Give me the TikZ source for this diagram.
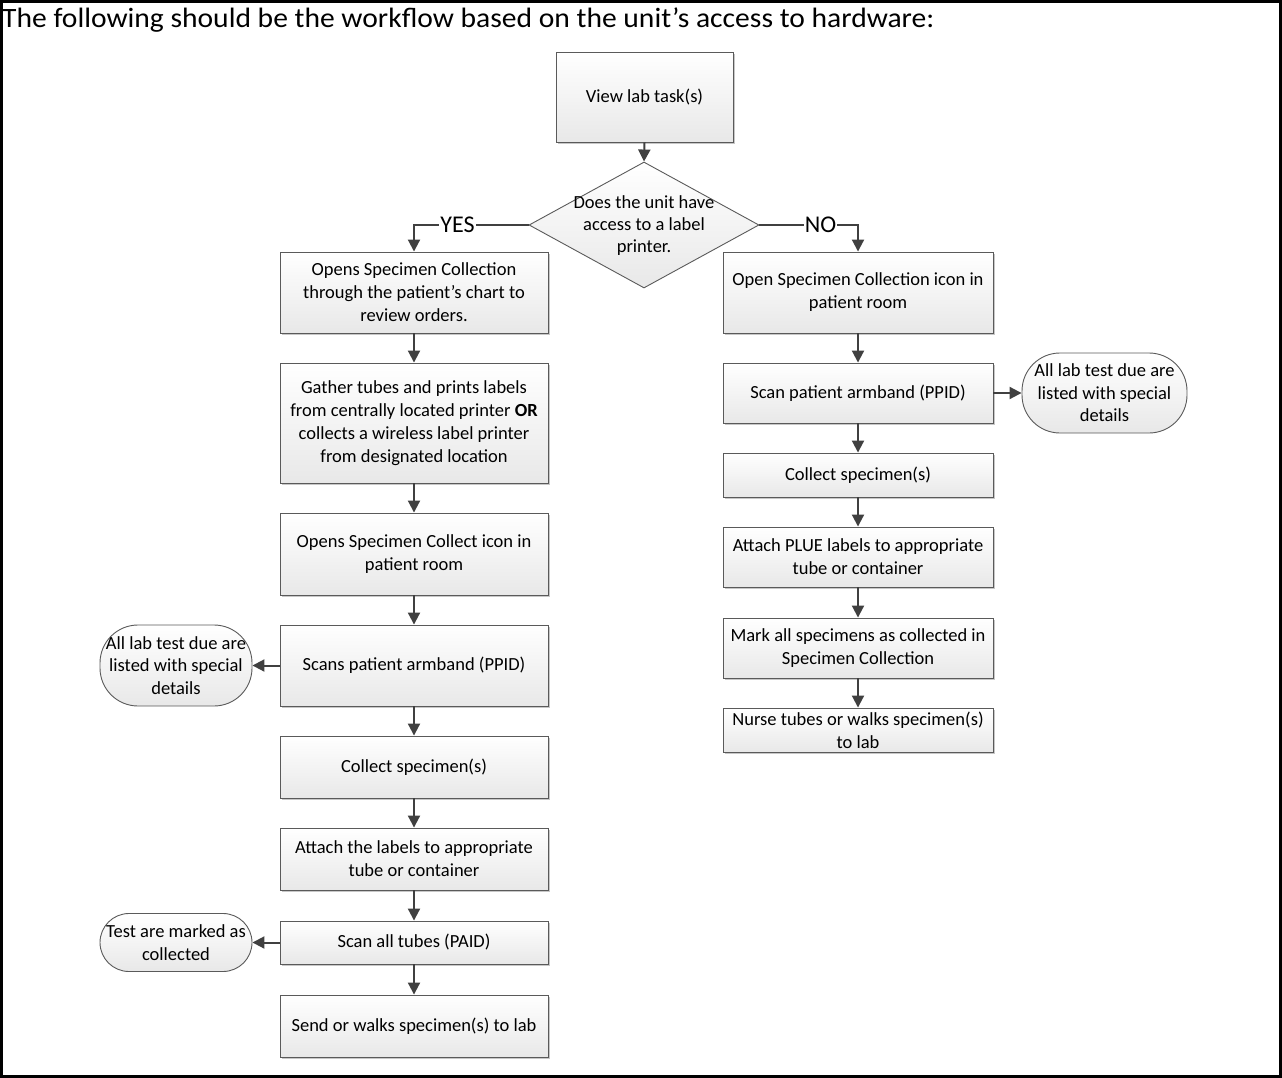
\documentclass[tikz,border=0pt]{standalone}
\usepackage{fontspec}
\setmainfont{Carlito}
\usetikzlibrary{arrows.meta,shapes.geometric,shadows}
\definecolor{linec}{HTML}{404040}
\definecolor{bordc}{HTML}{5A5A5A}
\begin{document}
\begin{tikzpicture}[x=1pt,y=-1pt,
  box/.style={rectangle, draw=bordc, line width=0.9pt, top color=white, bottom color=black!9,
    drop shadow={fill=black!22, shadow xshift=2pt, shadow yshift=-2pt, opacity=1},
    inner sep=0pt, align=center, font=\fontsize{18.5}{23}\selectfont},
  term/.style={rectangle, rounded corners=38pt, draw=bordc, line width=0.9pt, top color=white, bottom color=black!9,
    inner sep=0pt, align=center, font=\fontsize{18.5}{22.5}\selectfont},
  dia/.style={diamond, draw=bordc, line width=0.9pt, top color=white, bottom color=black!9, inner sep=0pt},
  arr/.style={draw=linec, line width=2pt, -{Triangle[length=12pt,width=12pt]}},
  yn/.style={fill=white, inner sep=1pt, font=\fontsize{24}{24}\selectfont}
]
\useasboundingbox (0,0) rectangle (1282,1078);
\draw[line width=3pt] (1.5,1.5) rectangle (1280.5,1076.5);
\node[anchor=base west, inner sep=0pt, font=\fontsize{28}{30}\selectfont] (title) at (2,28)
  {\scalebox{1.056}[1]{The following should be the workflow based on the unit’s access to hardware:}};

% top
\node[box, minimum width=177pt, minimum height=90pt] (view) at (644.5,97) {View lab task(s)};
\node[dia, minimum width=230pt, minimum height=126pt] (dec) at (644,225) {};
\node[align=center, inner sep=0pt, font=\fontsize{18.5}{22}\selectfont] (dectext) at (644,226)
  {Does the unit have\\access to a label\\printer.};

% left column
\node[box, minimum width=268pt, minimum height=81pt] (l1) at (414,292.5)
  {Opens Specimen Collection\\through the patient’s chart to\\review orders.};
\node[box, minimum width=268pt, minimum height=120pt] (l2) at (414,423)
  {Gather tubes and prints labels\\from centrally located printer \textbf{OR}\\collects a wireless label printer\\from designated location};
\node[box, minimum width=268pt, minimum height=82pt] (l3) at (414,554)
  {Opens Specimen Collect icon in\\patient room};
\node[box, minimum width=268pt, minimum height=81pt] (l4) at (414,665.5)
  {Scans patient armband (PPID)};
\node[box, minimum width=268pt, minimum height=62pt] (l5) at (414,767)
  {Collect specimen(s)};
\node[box, minimum width=268pt, minimum height=62pt] (l6) at (414,859)
  {Attach the labels to appropriate\\tube or container};
\node[box, minimum width=268pt, minimum height=43pt] (l7) at (414,942.5)
  {Scan all tubes (PAID)};
\node[box, minimum width=268pt, minimum height=62pt] (l8) at (414,1026)
  {Send or walks specimen(s) to lab};

\node[term, minimum width=152pt, minimum height=81pt] (e1) at (176,665.5)
  {All lab test due are\\listed with special\\details};
\node[term, minimum width=152pt, minimum height=58pt, rounded corners=29pt] (e2) at (176,942.5)
  {Test are marked as\\collected};

% right column
\node[box, minimum width=270pt, minimum height=81pt] (r1) at (858,292.5)
  {Open Specimen Collection icon in\\patient room};
\node[box, minimum width=270pt, minimum height=60pt] (r2) at (858,393)
  {Scan patient armband (PPID)};
\node[box, minimum width=270pt, minimum height=44pt] (r3) at (858,475)
  {Collect specimen(s)};
\node[box, minimum width=270pt, minimum height=60pt] (r4) at (858,557)
  {Attach PLUE labels to appropriate\\tube or container};
\node[box, minimum width=270pt, minimum height=60pt] (r5) at (858,648)
  {Mark all specimens as collected in\\Specimen Collection};
\node[box, minimum width=270pt, minimum height=44pt] (r6) at (858,730)
  {Nurse tubes or walks specimen(s)\\to lab};

\node[term, minimum width=165pt, minimum height=80pt] (e3) at (1104.5,393)
  {All lab test due are\\listed with special\\details};

% connectors
\draw[arr] (view.south) -- (dec.north);
\draw[arr] (dec.west) -| node[yn, pos=0.31] (yes) {YES} (l1.north);
\draw[arr] (dec.east) -| node[yn, pos=0.31] (no) {NO} (r1.north);

\draw[arr] (l1.south) -- (l2.north);
\draw[arr] (l2.south) -- (l3.north);
\draw[arr] (l3.south) -- (l4.north);
\draw[arr] (l4.south) -- (l5.north);
\draw[arr] (l5.south) -- (l6.north);
\draw[arr] (l6.south) -- (l7.north);
\draw[arr] (l7.south) -- (l8.north);
\draw[arr] (l4.west) -- (e1.east);
\draw[arr] (l7.west) -- (e2.east);

\draw[arr] (r1.south) -- (r2.north);
\draw[arr] (r2.south) -- (r3.north);
\draw[arr] (r3.south) -- (r4.north);
\draw[arr] (r4.south) -- (r5.north);
\draw[arr] (r5.south) -- (r6.north);
\draw[arr] (r2.east) -- (e3.west);
\end{tikzpicture}
\end{document}
